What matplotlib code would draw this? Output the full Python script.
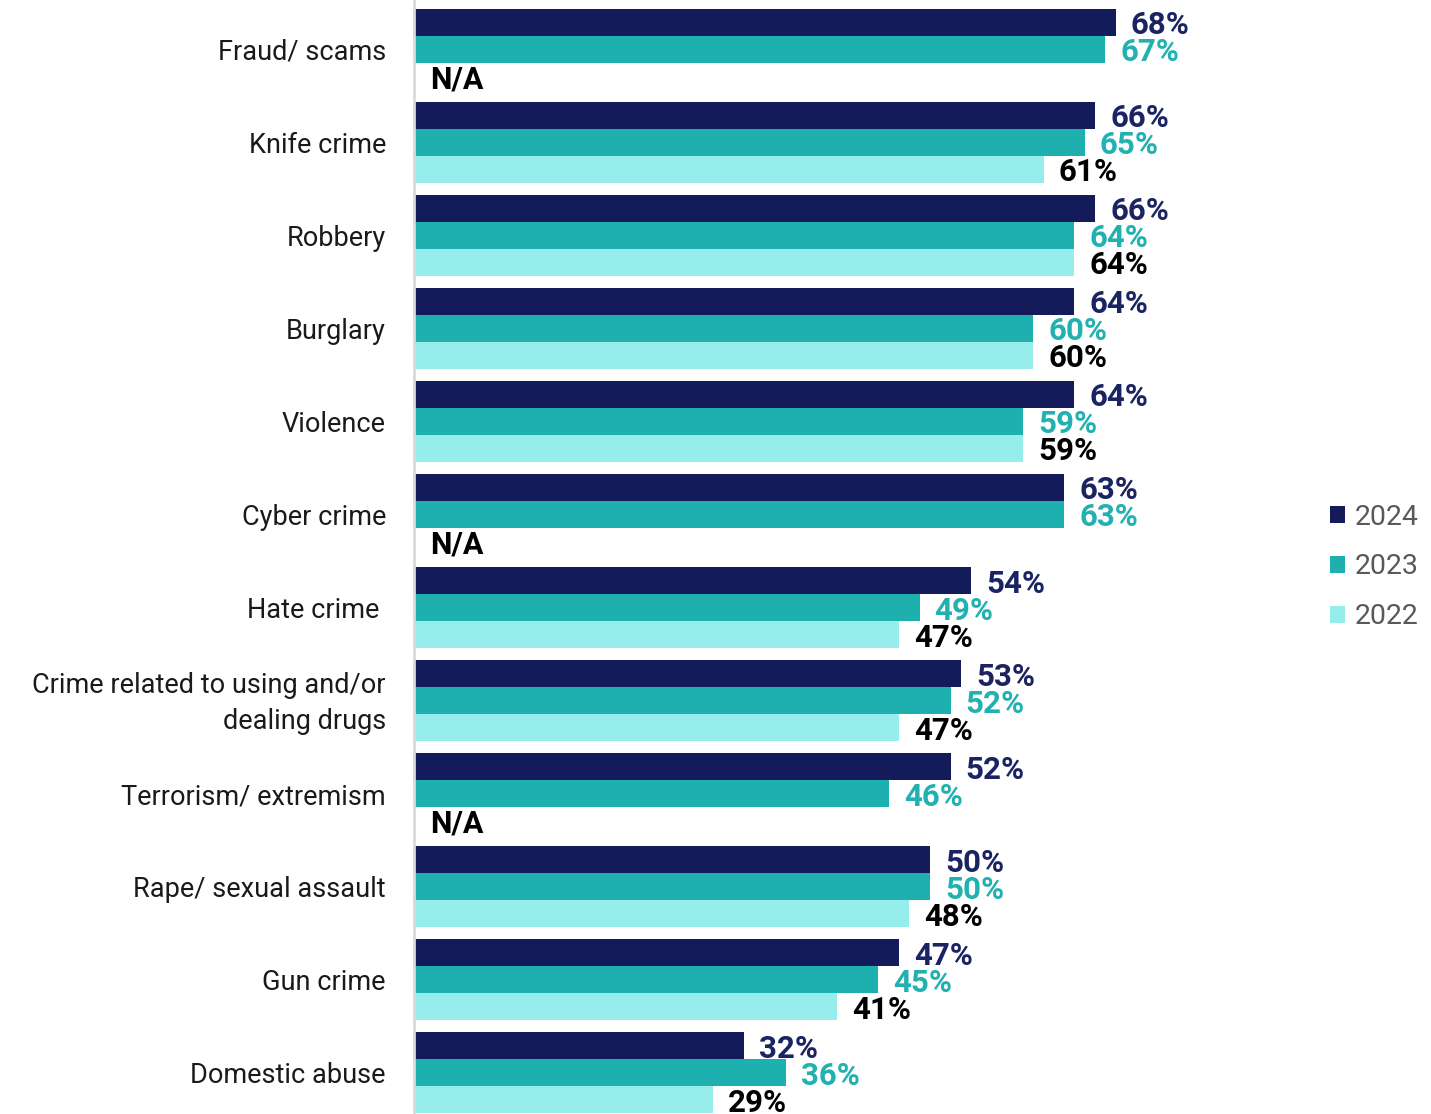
import numpy as np
import matplotlib.pyplot as plt

plt.rcParams['font.family'] = ['Roboto', 'DejaVu Sans']

categories = ['Fraud/ scams', 'Knife crime', 'Robbery', 'Burglary', 'Violence',
              'Cyber crime', 'Hate crime ', 'Crime related to using and/or\ndealing drugs',
              'Terrorism/ extremism', 'Rape/ sexual assault', 'Gun crime', 'Domestic abuse']
v2024 = [68, 66, 66, 64, 64, 63, 54, 53, 52, 50, 47, 32]
v2023 = [67, 65, 64, 60, 59, 63, 49, 52, 46, 50, 45, 36]
v2022 = [None, 61, 64, 60, 59, None, 47, 47, None, 48, 41, 29]

series = [('2024', v2024, '#131b5a', '#1b2463'),
          ('2023', v2023, '#1eafaf', '#21b1b0'),
          ('2022', v2022, '#97edeb', '#000000')]

W, H = 1431, 1114
fig = plt.figure(figsize=(W / 100, H / 100), dpi=100)
ax_left = 414 / W
ax = fig.add_axes([ax_left, 0, 1 - ax_left, 1])

px = 10.32  # pixels per percent
ax.set_xlim(0, (W - 414) / px)
h = 27 / 93
y = np.arange(len(categories))
ax.set_ylim(len(categories) - 1 + 0.446, -0.532)

pad = 15 / px
dy = 3 / 93
for k, (name, vals, col, tcol) in enumerate(series):
    pos = y + (k - 1) * h
    for p, v in zip(pos, vals):
        if v is None:
            ax.text(16 / px, p + dy, 'N/A', ha='left', va='center', fontsize=22,
                    fontweight='bold', color='#000000')
            continue
        ax.barh(p, v, height=h, color=col, linewidth=0)
        ax.text(v + pad, p + dy, f'{v}%', ha='left', va='center', fontsize=22.5,
                fontweight='bold', color=tcol, clip_on=False)
    ax.barh(np.nan, 0, color=col, label=name)

for yi, c in zip(y, categories):
    ax.text(-28 / px, yi + dy, c, ha='right', va='center', fontsize=19.5,
            color='#1a1a1a', linespacing=1.45, clip_on=False)

for s in ['top', 'right', 'bottom']:
    ax.spines[s].set_visible(False)
ax.spines['left'].set_color('#d9d9d9')
ax.spines['left'].set_linewidth(2)
ax.set_xticks([])
ax.set_yticks([])

leg = fig.legend(loc='center left', bbox_to_anchor=(1304 / W, 1 - 567 / H),
                 frameon=False, fontsize=20.5, handlelength=0.55, handleheight=0.55,
                 handletextpad=0.35, labelspacing=0.8, labelcolor='#595959')

plt.savefig('out.png', dpi=100)
